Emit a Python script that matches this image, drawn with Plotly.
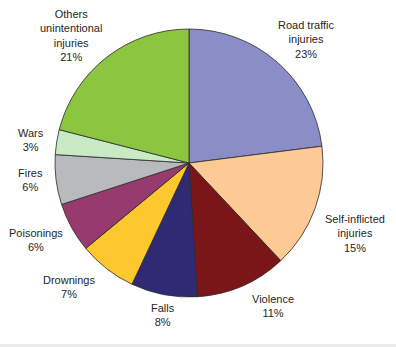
import math
import plotly.graph_objects as go

labels = ["Road traffic<br>injuries", "Self-inflicted<br>injuries", "Violence", "Falls",
          "Drownings", "Poisonings", "Fires", "Wars", "Others<br>unintentional<br>injuries"]
values = [23, 15, 11, 8, 7, 6, 6, 3, 21]
colors = ["#8A8DC6", "#FDC994", "#7A1518", "#2F2A73", "#FDC72E", "#973A6E",
          "#B8BABD", "#C8EAC4", "#8CC540"]

# label placement (layout only): angular nudge in degrees and distance from centre in px
label_nudge_deg = [2.2, 3.2, -6.8, -0.9, 6.3, 2.2, 1.1, -0.7, -4.9]
label_dist_px = [171, 180, 166, 154, 172, 171, 159, 160, 174]

W, H = 396, 347
cx, cy, R = 189, 163, 134

fig = go.Figure(go.Pie(
    labels=labels, values=values, sort=False, direction="clockwise", rotation=0,
    marker=dict(colors=colors, line=dict(color="#2a2a2a", width=0.8)),
    textinfo="none", hoverinfo="skip", showlegend=False,
    domain=dict(x=[(cx - R) / W, (cx + R) / W], y=[(H - cy - R) / H, (H - cy + R) / H]),
))

total = sum(values)
cum = 0
annotations = []
for lab, v, nd, dist in zip(labels, values, label_nudge_deg, label_dist_px):
    mid = (cum + v / 2) / total * 2 * math.pi + math.radians(nd)
    cum += v
    x = cx + dist * math.sin(mid)
    y = cy - dist * math.cos(mid)
    annotations.append(dict(
        x=x / W, y=1 - y / H, xref="paper", yref="paper",
        text=f"{lab}<br>{round(v / total * 100)}%", showarrow=False,
        xanchor="center", yanchor="middle", align="center",
        font=dict(family="Liberation Sans, Arial", size=11, color="#262626"),
    ))

fig.update_layout(
    width=W, height=H, margin=dict(l=0, r=0, t=0, b=0),
    paper_bgcolor="white", plot_bgcolor="white",
    annotations=annotations,
    shapes=[dict(type="rect", xref="paper", yref="paper", x0=0, x1=1,
                 y0=0, y1=3 / H, fillcolor="#EBEBEB", line=dict(width=0), layer="below")],
)
fig.write_html("out.html")
